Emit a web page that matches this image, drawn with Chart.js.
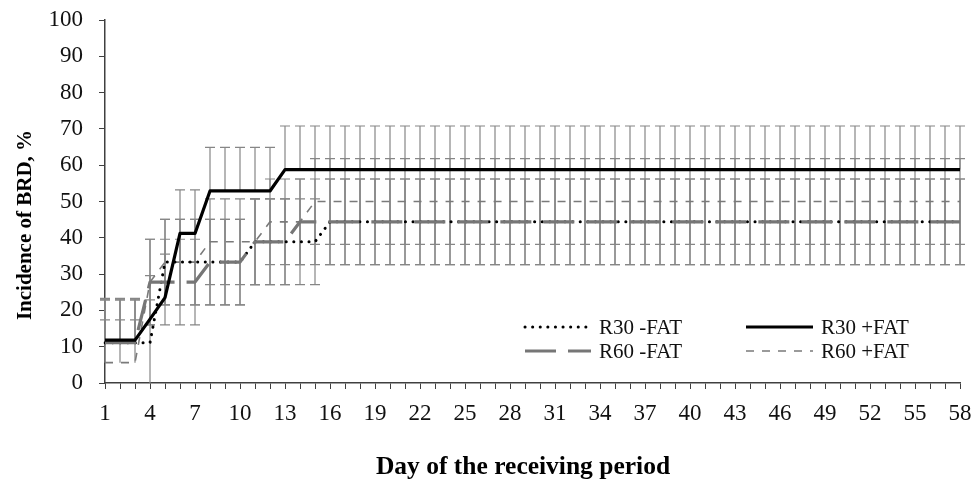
<!DOCTYPE html>
<html><head><meta charset="utf-8">
<script src="https://cdn.jsdelivr.net/npm/chart.js@4.4.1/dist/chart.umd.min.js"></script>
<style>html,body{margin:0;padding:0;background:#fff;}#c{display:block;}</style>
</head><body>
<canvas id="c" width="976" height="483" style="width:976px;height:483px"></canvas>
<script>
// ---- data ----
const days = [1,2,3,4,5,6,7,8,9,10,11,12,13,14,15,16,17,18,19,20,21,22,23,24,25,26,27,28,29,30,
  31,32,33,34,35,36,37,38,39,40,41,42,43,44,45,46,47,48,49,50,51,52,53,54,55,56,57,58];
const xTickLabels = ['1','4','7','10','13','16','19','22','25','28','31','34','37','40','43','46','49','52','55','58'];
const yTicks = [0,10,20,30,40,50,60,70,80,90,100];
const seriesNames = ['R30 -FAT','R30 +FAT','R60 -FAT','R60 +FAT'];

const r30m = [
 11.1,11.1,11.1,11.1,33.3,33.3,33.3,33.3,33.3,33.3,
 38.9,38.9,38.9,38.9,38.9,44.4,44.4,44.4,44.4,44.4,
 44.4,44.4,44.4,44.4,44.4,44.4,44.4,44.4,44.4,44.4,
 44.4,44.4,44.4,44.4,44.4,44.4,44.4,44.4,44.4,44.4,
 44.4,44.4,44.4,44.4,44.4,44.4,44.4,44.4,44.4,44.4,
 44.4,44.4,44.4,44.4,44.4,44.4,44.4,44.4];
const r30p = [
 11.8,11.8,11.8,17.6,23.5,41.2,41.2,52.9,52.9,52.9,
 52.9,52.9,58.8,58.8,58.8,58.8,58.8,58.8,58.8,58.8,
 58.8,58.8,58.8,58.8,58.8,58.8,58.8,58.8,58.8,58.8,
 58.8,58.8,58.8,58.8,58.8,58.8,58.8,58.8,58.8,58.8,
 58.8,58.8,58.8,58.8,58.8,58.8,58.8,58.8,58.8,58.8,
 58.8,58.8,58.8,58.8,58.8,58.8,58.8,58.8];
const r60m = [
 11.1,11.1,11.1,27.8,27.8,27.8,27.8,33.3,33.3,33.3,
 38.9,38.9,38.9,44.4,44.4,44.4,44.4,44.4,44.4,44.4,
 44.4,44.4,44.4,44.4,44.4,44.4,44.4,44.4,44.4,44.4,
 44.4,44.4,44.4,44.4,44.4,44.4,44.4,44.4,44.4,44.4,
 44.4,44.4,44.4,44.4,44.4,44.4,44.4,44.4,44.4,44.4,
 44.4,44.4,44.4,44.4,44.4,44.4,44.4,44.4];
const r60p = [
 5.6,5.6,5.6,27.8,33.3,33.3,33.3,38.9,38.9,38.9,
 38.9,44.4,44.4,44.4,50,50,50,50,50,50,
 50,50,50,50,50,50,50,50,50,50,
 50,50,50,50,50,50,50,50,50,50,
 50,50,50,50,50,50,50,50,50,50,
 50,50,50,50,50,50,50,50];

// error bars (upper / lower lengths, % points)
const r30pErrUp = [
 11.5,11.5,11.5,12,12,12,12,12,12,12,
 12,12,12,12,12,12,12,12,12,12,
 12,12,12,12,12,12,12,12,12,12,
 12,12,12,12,12,12,12,12,12,12,
 12,12,12,12,12,12,12,12,12,12,
 12,12,12,12,12,12,12,12];
const r30pErrDown = [
 0,0,0,0,0,0,0,0,0,0, 0,0,0,0,0,0,0,0,0,0, 0,0,0,0,0,0,0,0,0,0,
 0,0,0,0,0,0,0,0,0,0, 0,0,0,0,0,0,0,0,0,0, 0,0,0,0,0,0,0,0];
const r30mErrUp = [
 11.8,11.8,11.8,11.8,11.8,11.8,11.8,11.8,11.8,11.8,
 11.8,11.8,11.8,11.8,11.8,11.8,11.8,11.8,11.8,11.8,
 11.8,11.8,11.8,11.8,11.8,11.8,11.8,11.8,11.8,11.8,
 11.8,11.8,11.8,11.8,11.8,11.8,11.8,11.8,11.8,11.8,
 11.8,11.8,11.8,11.8,11.8,11.8,11.8,11.8,11.8,11.8,
 11.8,11.8,11.8,11.8,11.8,11.8,11.8,11.8];
const r30mErrDown = [
 0,0,0,11.8,11.8,11.8,11.8,11.8,11.8,11.8,
 11.8,11.8,11.8,11.8,11.8,11.8,11.8,11.8,11.8,11.8,
 11.8,11.8,11.8,11.8,11.8,11.8,11.8,11.8,11.8,11.8,
 11.8,11.8,11.8,11.8,11.8,11.8,11.8,11.8,11.8,11.8,
 11.8,11.8,11.8,11.8,11.8,11.8,11.8,11.8,11.8,11.8,
 11.8,11.8,11.8,11.8,11.8,11.8,11.8,11.8];
const r60mErrUp = [
 11.8,11.8,11.8,11.8,11.8,11.8,11.8,11.8,11.8,11.8,
 11.8,11.8,11.8,11.8,11.8,11.8,11.8,11.8,11.8,11.8,
 11.8,11.8,11.8,11.8,11.8,11.8,11.8,11.8,11.8,11.8,
 11.8,11.8,11.8,11.8,11.8,11.8,11.8,11.8,11.8,11.8,
 11.8,11.8,11.8,11.8,11.8,11.8,11.8,11.8,11.8,11.8,
 11.8,11.8,11.8,11.8,11.8,11.8,11.8,11.8];
const r60mErrDown = [
 0,0,0,11.8,11.8,11.8,11.8,11.8,11.8,11.8,
 11.8,11.8,11.8,11.8,11.8,11.8,11.8,11.8,11.8,11.8,
 11.8,11.8,11.8,11.8,11.8,11.8,11.8,11.8,11.8,11.8,
 11.8,11.8,11.8,11.8,11.8,11.8,11.8,11.8,11.8,11.8,
 11.8,11.8,11.8,11.8,11.8,11.8,11.8,11.8,11.8,11.8,
 11.8,11.8,11.8,11.8,11.8,11.8,11.8,11.8];
const r60pErrUp = [
 11.8,11.8,11.8,11.8,11.8,11.8,11.8,11.8,11.8,11.8,
 11.8,11.8,11.8,11.8,11.8,11.8,11.8,11.8,11.8,11.8,
 11.8,11.8,11.8,11.8,11.8,11.8,11.8,11.8,11.8,11.8,
 11.8,11.8,11.8,11.8,11.8,11.8,11.8,11.8,11.8,11.8,
 11.8,11.8,11.8,11.8,11.8,11.8,11.8,11.8,11.8,11.8,
 11.8,11.8,11.8,11.8,11.8,11.8,11.8,11.8];
const r60pErrDown = [
 0,0,0,11.8,11.8,11.8,11.8,11.8,11.8,11.8,
 11.8,11.8,11.8,11.8,11.8,11.8,11.8,11.8,11.8,11.8,
 11.8,11.8,11.8,11.8,11.8,11.8,11.8,11.8,11.8,11.8,
 11.8,11.8,11.8,11.8,11.8,11.8,11.8,11.8,11.8,11.8,
 11.8,11.8,11.8,11.8,11.8,11.8,11.8,11.8,11.8,11.8,
 11.8,11.8,11.8,11.8,11.8,11.8,11.8,11.8];

const xTitle = 'Day of the receiving period';
const yTitle = 'Incidence of BRD, %';

// ---- styles ----
const FONT = "'Liberation Serif','Times New Roman',serif";
const AXIS = '#404040';

const base = {pointRadius:0, pointHoverRadius:0, tension:0, fill:false, borderJoinStyle:'round'};
const dsR30p = Object.assign({label:seriesNames[1], data:r30p, borderColor:'#000000', borderWidth:3.2, borderDash:[], borderCapStyle:'butt', errUp:r30pErrUp, errDown:r30pErrDown}, base);
const dsR60m = Object.assign({label:seriesNames[2], data:r60m, borderColor:'#767676', borderWidth:3.2, borderDash:[31,12], borderCapStyle:'butt', errUp:r60mErrUp, errDown:r60mErrDown}, base);
const dsR30m = Object.assign({label:seriesNames[0], data:r30m, borderColor:'#000000', borderWidth:3, borderDash:[0.1,7.5], borderCapStyle:'round', errUp:r30mErrUp, errDown:r30mErrDown}, base);
const dsR60p = Object.assign({label:seriesNames[3], data:r60p, borderColor:'#7a7a7a', borderWidth:1.6, borderDash:[8,8], borderCapStyle:'butt', errUp:r60pErrUp, errDown:r60pErrDown}, base);

const errorBarPlugin = {
  id:'errorBars',
  beforeDatasetsDraw(chart){
    const {ctx, chartArea:a} = chart;
    const x = chart.scales.x, y = chart.scales.y;
    ctx.save();
    ctx.beginPath(); ctx.rect(a.left-8, a.top-3, a.right-a.left+16, a.bottom-a.top+3); ctx.clip();
    ctx.strokeStyle = '#868686'; ctx.lineWidth = 1.2; ctx.setLineDash([]);
    chart.data.datasets.forEach(ds=>{
      ds.data.forEach((v,i)=>{
        const up = ds.errUp[i], dn = ds.errDown[i];
        if(!up && !dn) return;
        const px = x.getPixelForValue(i);
        const yt = y.getPixelForValue(v+up), yb = y.getPixelForValue(v-dn);
        ctx.beginPath();
        ctx.moveTo(px,yt); ctx.lineTo(px,yb);
        if(up>0){ctx.moveTo(px-5,yt); ctx.lineTo(px+5,yt);}
        if(dn>0){ctx.moveTo(px-5,yb); ctx.lineTo(px+5,yb);}
        ctx.stroke();
      });
    });
    ctx.restore();
  }
};

const decorPlugin = {
  id:'decor',
  afterDraw(chart){
    const ctx = chart.ctx;
    ctx.save();
    ctx.fillStyle = '#000';
    // axis titles
    ctx.font = "bold 25.5px " + FONT;
    ctx.textAlign = 'center'; ctx.textBaseline = 'alphabetic';
    ctx.fillText(xTitle, 523, 474);
    ctx.save();
    ctx.translate(31, 225); ctx.rotate(-Math.PI/2);
    ctx.font = "bold 21px " + FONT;
    ctx.fillText(yTitle, 0, 0);
    ctx.restore();
    // legend 2x2
    const items = [
      {ds:dsR30m, x1:525, x2:590, tx:599, y:327},
      {ds:dsR30p, x1:746, x2:813, tx:821, y:327},
      {ds:dsR60m, x1:525, x2:591, tx:599, y:351},
      {ds:dsR60p, x1:746, x2:813, tx:821, y:351}
    ];
    items.forEach(it=>{
      const d = it.ds;
      ctx.save();
      ctx.strokeStyle = d.borderColor; ctx.lineWidth = d.borderWidth;
      ctx.setLineDash(d.borderDash); ctx.lineCap = d.borderCapStyle;
      ctx.beginPath(); ctx.moveTo(it.x1, it.y); ctx.lineTo(it.x2, it.y); ctx.stroke();
      ctx.restore();
      ctx.font = "21px " + FONT; ctx.fillStyle = '#111';
      ctx.textAlign = 'left'; ctx.textBaseline = 'middle';
      ctx.fillText(d.label, it.tx, it.y+1);
    });
    ctx.restore();
  }
};

new Chart(document.getElementById('c'), {
  type:'line',
  data:{ labels: days.map(String), datasets:[dsR30p, dsR60m, dsR30m, dsR60p] },
  options:{
    responsive:false, animation:false, devicePixelRatio:1,
    layout:{padding:{top:20, right:16, left:0, bottom:0}},
    plugins:{legend:{display:false}, tooltip:{enabled:false}},
    scales:{
      x:{
        type:'category', offset:false,
        grid:{drawOnChartArea:false, drawTicks:true, tickLength:6, color:AXIS, lineWidth:1},
        border:{display:true, color:AXIS, width:1.5},
        ticks:{autoSkip:false, maxRotation:0, minRotation:0, padding:11, color:'#111',
          font:{family:FONT, size:23},
          callback:function(v){ const l = this.getLabelForValue(v); return xTickLabels.includes(l) ? l : ''; }},
        afterFit:(s)=>{ s.height = 100; s.paddingLeft = 0; s.paddingRight = 0; }
      },
      y:{
        min:yTicks[0], max:yTicks[yTicks.length-1],
        grid:{drawOnChartArea:false, drawTicks:true, tickLength:6, color:AXIS, lineWidth:1},
        border:{display:true, color:AXIS, width:1.5},
        ticks:{stepSize:yTicks[1]-yTicks[0], padding:16, color:'#111', font:{family:FONT, size:23}},
        afterFit:(s)=>{ s.width = 105; s.paddingTop = 0; s.paddingBottom = 0; }
      }
    }
  },
  plugins:[errorBarPlugin, decorPlugin]
});
</script>
</body></html>
